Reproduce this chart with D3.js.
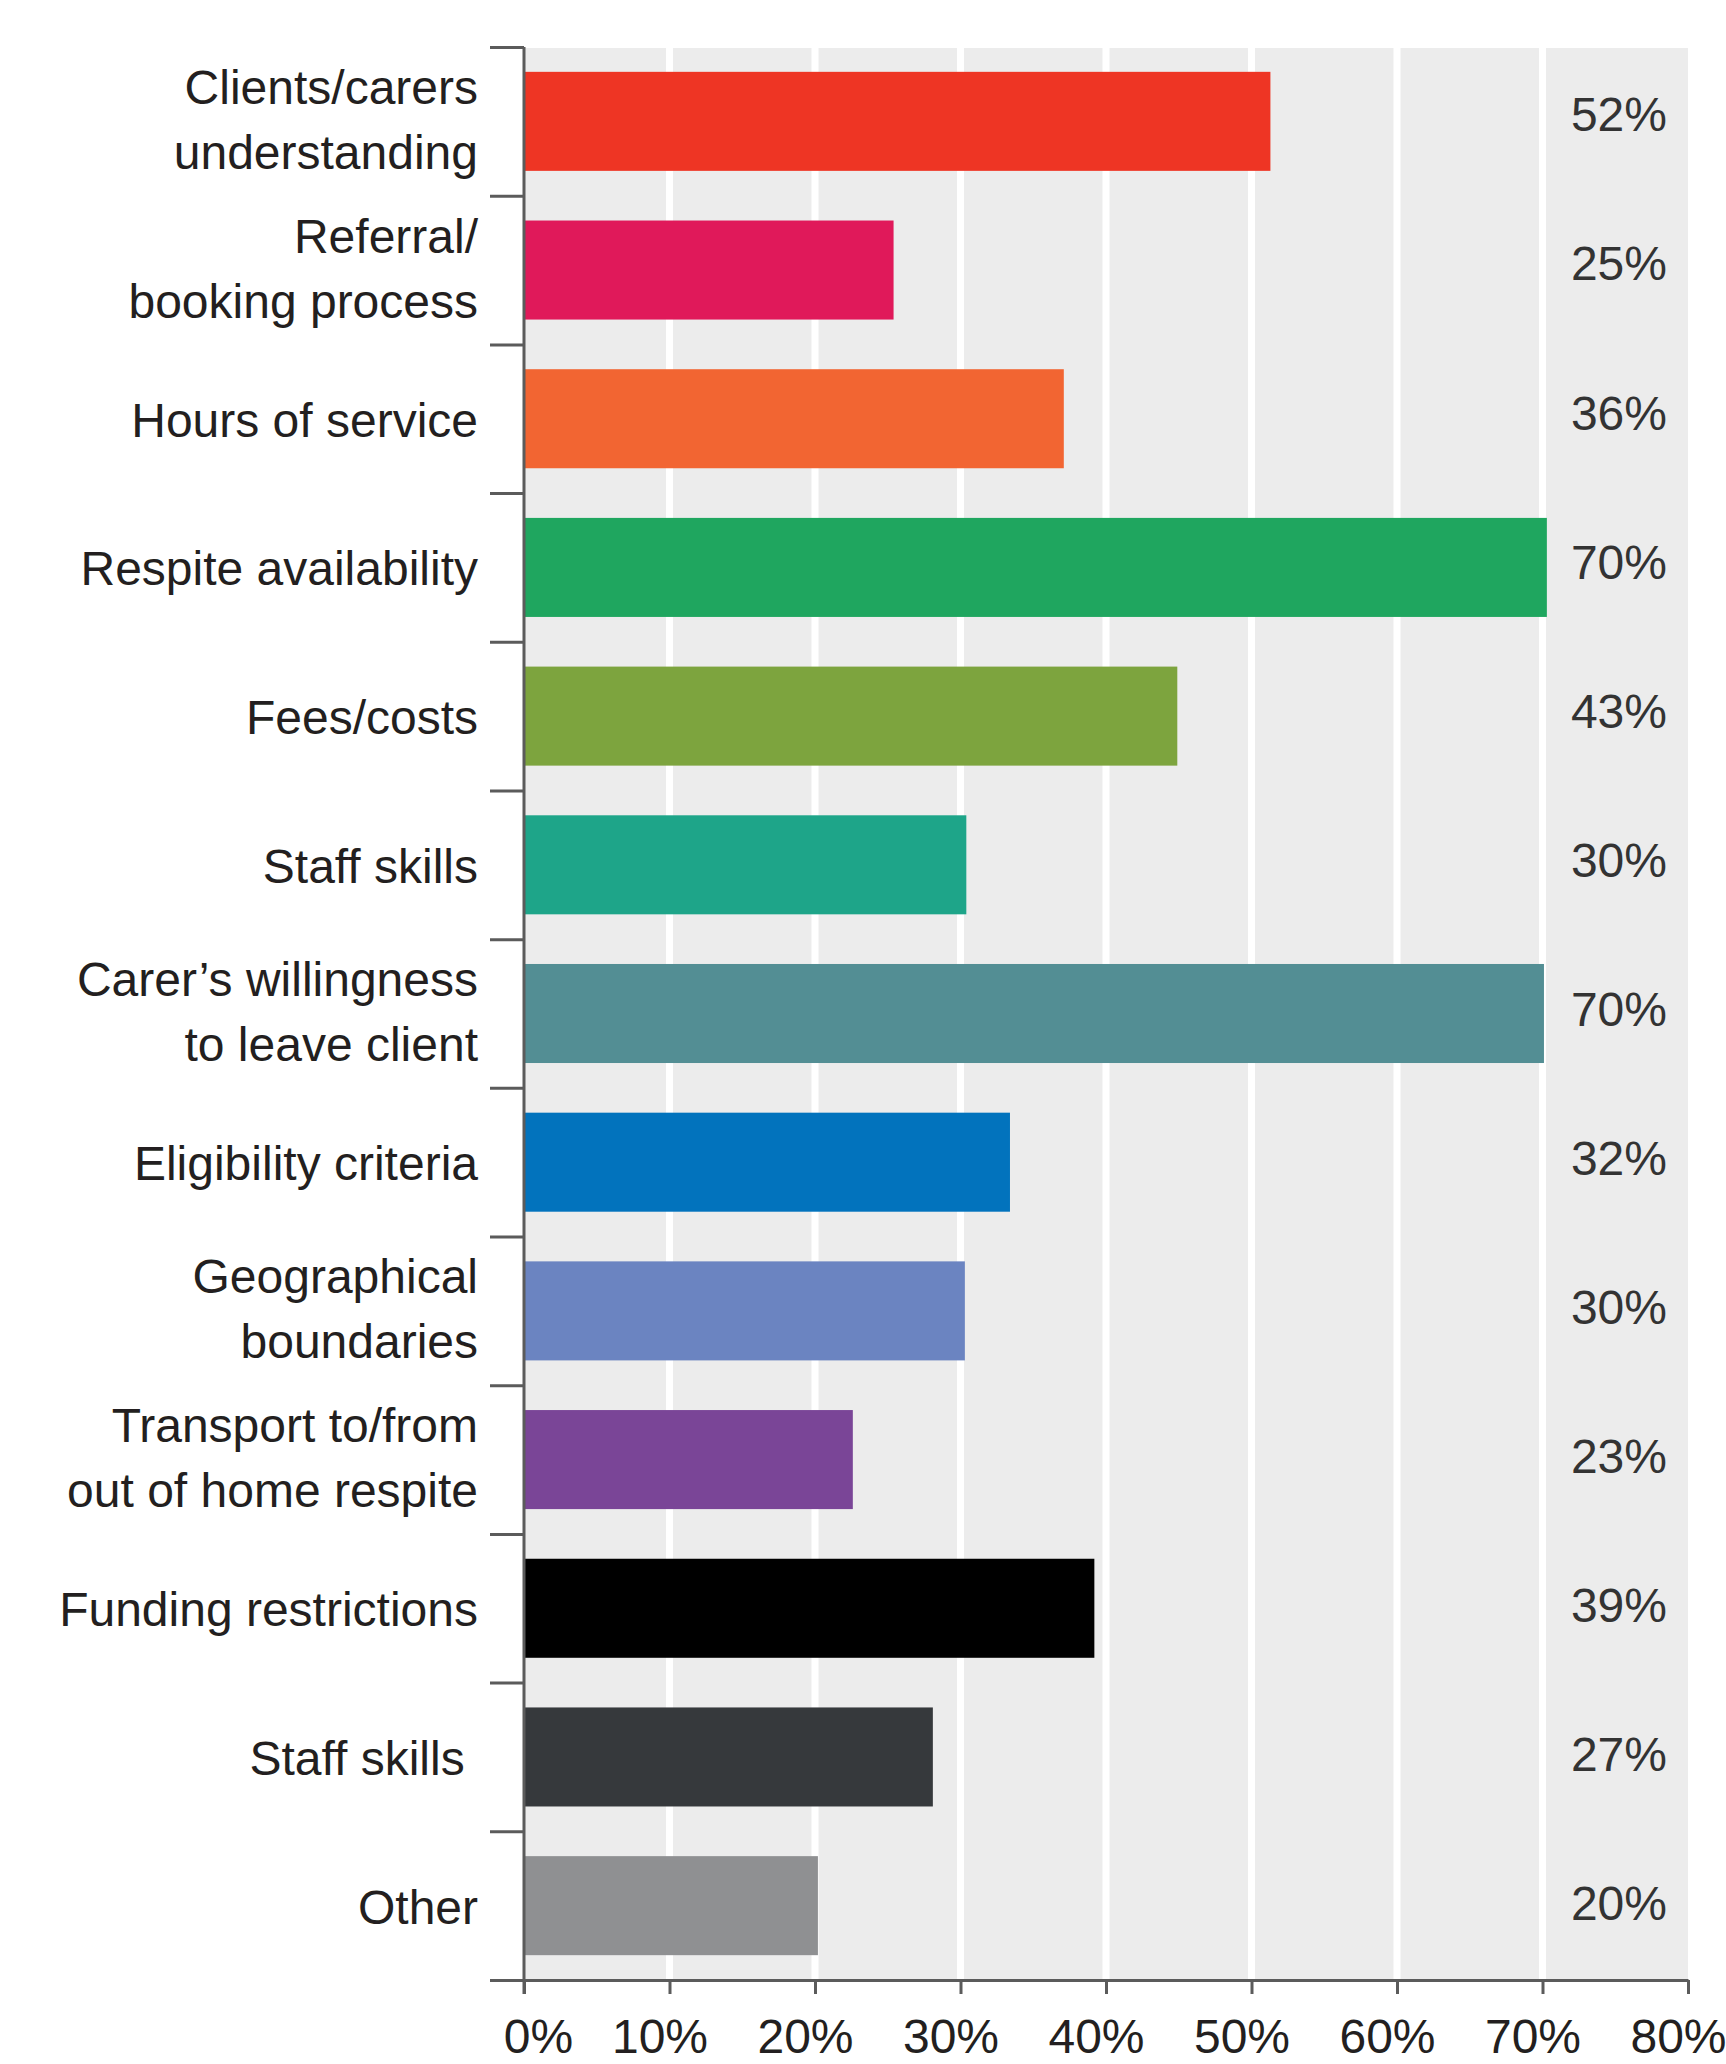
<!DOCTYPE html>
<html>
<head>
<meta charset="utf-8">
<script src="https://cdn.jsdelivr.net/npm/d3@7"></script>
<style>
  html, body { margin: 0; padding: 0; background: #fff; }
  text { font-family: "Liberation Sans", Arial, sans-serif; }
</style>
</head>
<body>
<div id="chart"></div>
<script>
// categories, one entry per bar; "\n" splits the label in two lines
const categories = [
  "Clients/carers\nunderstanding",
  "Referral/\nbooking process",
  "Hours of service",
  "Respite availability",
  "Fees/costs",
  "Staff skills",
  "Carer\u2019s willingness\nto leave client",
  "Eligibility criteria",
  "Geographical\nboundaries",
  "Transport to/from\nout of home respite",
  "Funding restrictions",
  "Staff skills ",
  "Other"
];
// percentages printed at the right
const valueLabels = [52, 25, 36, 70, 43, 30, 70, 32, 30, 23, 39, 27, 20];
// bar lengths as drawn in the picture (%)
const barValues = [51.3, 25.4, 37.1, 70.3, 44.9, 30.4, 70.1, 33.4, 30.3, 22.6, 39.2, 28.1, 20.2];
const barColors = ["#ee3524", "#e0195a", "#f26532", "#1fa65f", "#7da43e", "#1ea589", "#538e94",
                   "#0273bd", "#6b84c1", "#7a4597", "#000000", "#36393c", "#8f9092"];
const xTicks = [0, 10, 20, 30, 40, 50, 60, 70, 80];

const width = 1726, height = 2064;
const plotLeft = 524, plotRight = 1688, plotTop = 47, plotBottom = 1980;

var svg = d3.select("#chart").append("svg")
    .attr("width", width)
    .attr("height", height);

var x = d3.scaleLinear().domain([0, 80]).range([plotLeft, plotRight]);
var y = d3.scaleBand()
    .domain(d3.range(categories.length))
    .range([plotTop, plotBottom])
    .paddingInner(0.334)
    .paddingOuter(0.167);
// band boundaries for the category ticks
var yEdge = d3.scaleLinear().domain([0, categories.length]).range([plotTop, plotBottom]);

// grey plot background
svg.append("rect")
    .attr("x", x(0)).attr("y", plotTop + 1)
    .attr("width", x(80) - x(0)).attr("height", plotBottom - plotTop - 1)
    .attr("fill", "#ececec");

// white grid lines
svg.selectAll(".grid")
    .data(xTicks.slice(1, -1))
  .enter().append("line")
    .attr("class", "grid")
    .attr("x1", d => x(d)).attr("x2", d => x(d))
    .attr("y1", plotTop).attr("y2", plotBottom)
    .attr("stroke", "#fff")
    .attr("stroke-width", 7);

// bars
svg.selectAll(".bar")
    .data(barValues)
  .enter().append("rect")
    .attr("class", "bar")
    .attr("x", x(0))
    .attr("y", (d, i) => y(i))
    .attr("width", d => x(d) - x(0))
    .attr("height", y.bandwidth())
    .attr("fill", (d, i) => barColors[i]);

// value labels
svg.selectAll(".val")
    .data(valueLabels)
  .enter().append("text")
    .attr("class", "val")
    .attr("x", x(80) - 21)
    .attr("y", (d, i) => y(i) + y.bandwidth() / 2 + 10 + i * 0.4)
    .attr("text-anchor", "end")
    .attr("font-size", 48)
    .attr("fill", "#333")
    .text(d => d + "%");

// category labels
var lab = svg.selectAll(".cat")
    .data(categories)
  .enter().append("text")
    .attr("class", "cat")
    .attr("text-anchor", "end")
    .attr("font-size", 48)
    .attr("fill", "#231f20")
    .style("white-space", "pre");
lab.each(function(d, i) {
  let lines = d.split("\n");
  let cy = y(i) + y.bandwidth() / 2 + (lines.length > 1 ? 15 : 18);
  let t = d3.select(this);
  lines.forEach(function(s, k) {
    t.append("tspan")
      .attr("x", 478)
      .attr("y", cy + (k - (lines.length - 1) / 2) * 65)
      .text(s);
  });
});

// left axis (ticks between categories)
var yAxis = svg.append("g")
    .attr("transform", "translate(" + plotLeft + ",0)")
    .call(d3.axisLeft(yEdge).tickValues(d3.range(categories.length + 1)).tickSize(34).tickSizeOuter(0).tickFormat(""));

// bottom axis
var xAxis = svg.append("g")
    .attr("transform", "translate(0," + plotBottom + ")")
    .call(d3.axisBottom(x).tickValues(xTicks).tickSize(14).tickSizeOuter(0).tickPadding(25).tickFormat(d => d + "%"));
xAxis.selectAll("text")
    .attr("font-size", 48)
    .attr("fill", "#231f20")
    .attr("font-family", "Liberation Sans, Arial, sans-serif")
    .attr("dx", d => d === 0 ? 14 : -10);

svg.selectAll(".domain, .tick line")
    .attr("stroke", "#5b5b5b")
    .attr("stroke-width", 3);
yAxis.select(".domain").attr("d", "M0," + plotTop + "V" + (plotBottom + 14));
</script>
</body>
</html>
